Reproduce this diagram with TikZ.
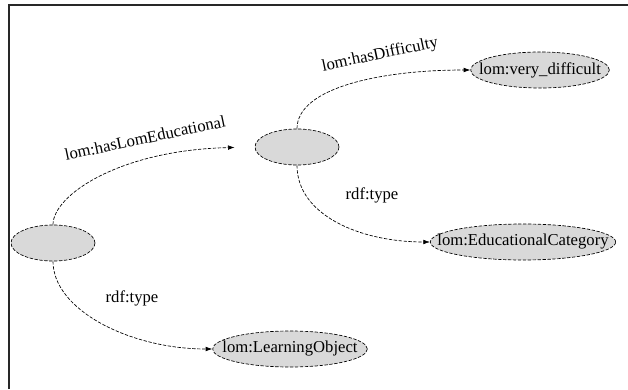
\documentclass[tikz,border=0pt]{standalone}
\usepackage{fontspec}
\setmainfont{Liberation Serif}
\usetikzlibrary{shapes.geometric,arrows.meta}

\tikzset{every picture/.style={line width=0.75pt}}
\tikzset{
  rdfres/.style={ellipse, draw, line width=0.5pt, dash pattern=on 2.5pt off 1.2pt,
    fill={rgb, 255:red, 217; green, 217; blue, 217}, minimum height=27pt, inner sep=0pt},
  rdfrel/.style={draw, line width=0.5pt, dash pattern=on 2.5pt off 1.2pt,
    -{Latex[length=5pt,width=3.5pt]}},
  rdftxt/.style={font=\rmfamily\fontsize{12.5}{14}\selectfont, inner sep=0pt},
}

\begin{document}
\begin{tikzpicture}[x=0.75pt,y=0.75pt,yscale=-1,xscale=1]
	\useasboundingbox (0,0) rectangle (628,389);

	%Frame
	\draw [line width=1.5pt, color={rgb, 255:red, 40; green, 40; blue, 40 }] (9,389) -- (9,5) -- (628,5) ;

	%Shape: Ellipse (blank nodes)
	\node [rdfres, minimum width=63pt] (blankA) at (53,243) {};
	\node [rdfres, minimum width=63pt] (blankB) at (297,147) {};
	%Shape: Ellipse (resources)
	\node [rdfres, minimum width=104pt, label={[rdftxt]center:{lom:very\_difficult}}] (difficult) at (540,70) {};
	\node [rdfres, minimum width=139pt, label={[rdftxt]center:{lom:EducationalCategory}}] (educat) at (523,242) {};
	\node [rdfres, minimum width=116pt, label={[rdftxt]center:{lom:LearningObject}}] (learnobj) at (290,349) {};

	%Curve Lines
	\draw [rdfrel, shorten >=15] (blankA.north) .. controls (53,195) and (120,150) .. (blankB.west) ;
	\draw [rdfrel] (blankA.south) .. controls (53,310) and (130,349) .. (learnobj.west) ;
	\draw [rdfrel] (blankB.north) .. controls (297,88) and (380,70) .. (difficult.west) ;
	\draw [rdfrel] (blankB.south) .. controls (297,215) and (360,242) .. (educat.west) ;

	% Text Node
	\node [rdftxt, rotate=12] (lblEdu) at (145,138) {lom:hasLomEducational};
	% Text Node
	\node [rdftxt, rotate=12] (lblDiff) at (380,55) {lom:hasDifficulty};
	% Text Node
	\node [rdftxt] (lblTypeA) at (132,298) {rdf:type};
	% Text Node
	\node [rdftxt] (lblTypeB) at (372,195) {rdf:type};

\end{tikzpicture}
\end{document}
